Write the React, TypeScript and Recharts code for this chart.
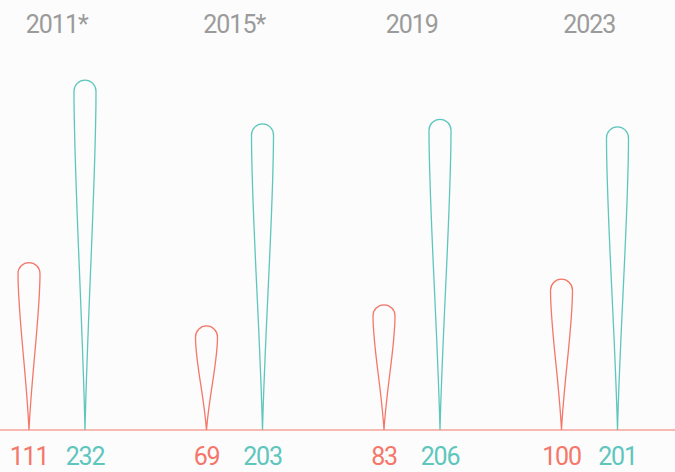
import React from "react";
import { BarChart, Bar, XAxis, YAxis, LabelList } from "recharts";

const YEARS = ["2011*", "2015*", "2019", "2023"];
const RED_VALUES = [111, 69, 83, 100];
const TEAL_VALUES = [232, 203, 206, 201];

const RED = "#f4776a";
const TEAL = "#5ec6bd";
const GREY = "#9b9b9b";
const FONT = "Roboto, sans-serif";

const data = YEARS.map((year, i) => ({
  year,
  red: RED_VALUES[i],
  teal: TEAL_VALUES[i],
}));

/* teardrop outline: point on the baseline, round top */
function Drop(props: any) {
  const { x, y, width, height, color } = props;
  if (!height || height <= 0) return null;
  const r = width / 2;
  const cx = x + r;
  const bottom = y + height;
  const top = y + r;
  const d = [
    `M ${cx} ${bottom}`,
    `C ${cx - r * 0.25} ${bottom - height * 0.35}, ${cx - r} ${top + height * 0.25}, ${cx - r} ${top}`,
    `A ${r} ${r} 0 0 1 ${cx + r} ${top}`,
    `C ${cx + r} ${top + height * 0.25}, ${cx + r * 0.25} ${bottom - height * 0.35}, ${cx} ${bottom}`,
    "Z",
  ].join(" ");
  return <path d={d} fill="none" stroke={color} strokeWidth={1.3} />;
}

function YearTick({ x, y, payload }: any) {
  return (
    <text
      x={x}
      y={y - 20}
      textAnchor="middle"
      fill={GREY}
      fontSize={25}
      fontFamily={FONT}
      style={{ letterSpacing: "-1px" }}
    >
      {payload.value}
    </text>
  );
}

function valueLabel(color: string) {
  return (p: any) => {
    const vb = p.viewBox || p;
    const cx = vb.x + vb.width / 2;
    const base = vb.y + vb.height;
    return (
      <text
        x={cx}
        y={base + 35}
        textAnchor="middle"
        fill={color}
        fontSize={25}
        fontFamily={FONT}
        style={{ letterSpacing: "-1.2px" }}
      >
        {p.value}
      </text>
    );
  };
}

export default function App() {
  return (
    <div
      style={{
        position: "fixed",
        left: 0,
        top: 0,
        width: 675,
        height: 472,
        overflow: "hidden",
        background: "#fcfcfc",
      }}
    >
      <div style={{ position: "absolute", left: -32, top: 0 }}>
        <BarChart
          width={710}
          height={472}
          data={data}
          margin={{ top: 0, right: 0, bottom: 0, left: 0 }}
          barSize={22}
          barGap={34}
        >
          <XAxis
            xAxisId="top"
            orientation="top"
            dataKey="year"
            height={53}
            axisLine={false}
            tickLine={false}
            tickSize={0}
            tickMargin={0}
            tick={<YearTick />}
          />
          <XAxis
            dataKey="year"
            height={42}
            tick={false}
            tickLine={false}
            axisLine={{ stroke: RED, strokeWidth: 1 }}
          />
          <YAxis hide domain={[0, 250]} />
          <Bar
            dataKey="red"
            isAnimationActive={false}
            shape={(p: any) => <Drop {...p} color={RED} />}
          >
            <LabelList dataKey="red" content={valueLabel(RED)} />
          </Bar>
          <Bar
            dataKey="teal"
            isAnimationActive={false}
            shape={(p: any) => <Drop {...p} color={TEAL} />}
          >
            <LabelList dataKey="teal" content={valueLabel(TEAL)} />
          </Bar>
        </BarChart>
      </div>
    </div>
  );
}
